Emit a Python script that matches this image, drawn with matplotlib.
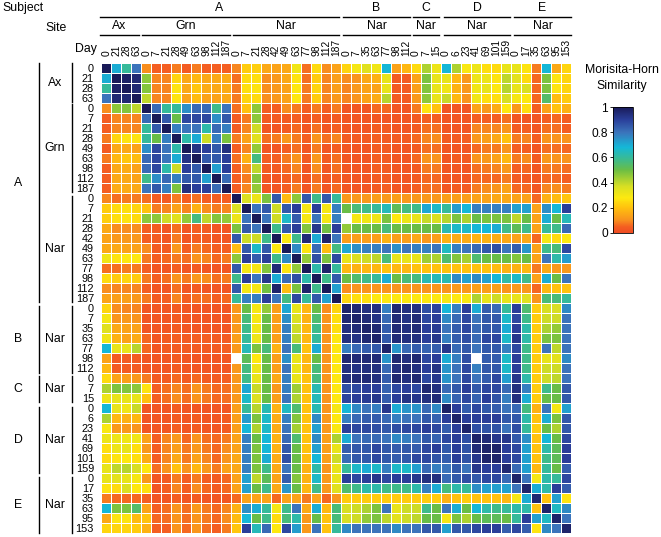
import numpy as np
import matplotlib
matplotlib.use("Agg")
import matplotlib.pyplot as plt
from matplotlib.colors import LinearSegmentedColormap

plt.rcParams["font.family"] = ["Liberation Sans", "DejaVu Sans"]

# day labels per group
days_ax = ["0", "21", "28", "63"]
days_grn = ["0", "7", "21", "28", "49", "63", "98", "112", "187"]
days_nar = ["0", "7", "21", "28", "42", "49", "63", "77", "98", "112", "187"]
days_b = ["0", "7", "35", "63", "77", "98", "112"]
days_c = ["0", "7", "15"]
days_d = ["0", "6", "23", "41", "69", "101", "159"]
days_e = ["0", "17", "35", "63", "95", "153"]
days = days_ax + days_grn + days_nar + days_b + days_c + days_d + days_e

# similarity in percent, upper triangle, row by row
sim_ax = [
    [100,70,60,80, 10,5,5,8,4,8,5,5,5, 9,22,23,15,14,15,31,7,25,10,14, 24,30,35,31,68,14,18, 25,42,32, 68,42,29,32,26,25,33, 33,27,8,68,15,24],
    [100,98,96, 46,9,9,24,15,18,15,15,16, 7,25,26,10,12,15,27,7,22,9,13, 10,11,15,17,33,4,4, 14,48,33, 33,18,12,32,32,27,40, 34,25,6,48,27,24],
    [100,96, 47,9,9,27,15,21,16,15,16, 8,26,27,10,12,14,28,8,24,9,13, 9,12,14,14,33,4,4, 13,47,33, 31,17,12,31,33,28,41, 33,36,6,48,27,24],
    [100, 40,9,9,27,14,19,14,14,15, 8,24,25,10,12,14,28,8,22,9,12, 9,11,14,16,41,4,4, 12,46,33, 39,18,11,31,26,26,37, 30,28,6,54,19,22],
]
sim_grn = [
    [100,82,60,60,75,82,82,58,80, 7,20,46,5,5,10,8,5,8,5,8, 3,3,3,6,6,3,3, 8,27,20, 3,3,3,14,12,16,28, 12,26,5,14,20,17],
    [100,85,50,88,88,88,75,85, 4,8,46,4,4,4,5,3,5,3,4, 3,3,3,3,3,3,3, 4,5,5, 3,3,3,5,5,5,7, 3,3,3,5,6,5],
    [100,78,80,80,62,82,78, 4,9,38,3,3,4,6,3,7,3,5, 3,3,3,4,4,3,3, 4,7,7, 3,3,3,9,9,9,11, 4,5,3,7,7,5],
    [100,62,70,38,78,48, 8,14,35,7,8,12,8,5,11,7,9, 4,4,4,5,4,4,4, 6,9,10, 4,4,5,12,13,15,20, 8,9,5,11,11,11],
    [100,93,90,85,94, 5,9,45,3,3,5,7,3,8,3,5, 3,3,3,4,4,3,3, 4,7,7, 3,3,3,6,8,8,11, 5,5,3,7,7,6],
    [100,85,85,90, 7,17,57,5,5,8,11,4,12,4,7, 3,3,3,5,4,3,3, 6,11,11, 3,4,4,11,12,14,18, 8,10,4,12,11,11],
    [100,72,90, 5,10,40,4,4,6,9,3,10,3,7, 3,3,3,5,4,3,3, 4,8,8, 3,3,3,7,8,9,12, 5,6,3,8,8,7],
    [100,82, 5,8,47,3,3,5,6,3,7,3,5, 3,3,3,4,4,3,3, 4,6,6, 3,3,3,6,6,6,8, 4,4,3,6,6,5],
    [100, 5,9,45,3,3,5,8,3,8,3,6, 3,3,3,4,5,3,3, 5,7,7, 3,4,4,8,10,11,14, 6,6,3,9,10,8],
]
sim_nar = [
    [100,36,32,48,85,19,46,85,58,85,60, 12,12,12,13,12,13,12, 12,12,12, 13,13,13,14,14,15,15, 14,14,6,17,19,21],
    [100,80,85,38,85,90,30,90,30,78, 50,56,58,60,64,52,57, 58,71,66, 60,73,68,78,78,78,78, 72,72,14,75,68,90],
    [100,80,38,66,84,30,80,30,78, 30,30,31,32,48,28,32, 33,39,36, 41,48,42,50,48,48,48, 40,50,14,70,50,64],
    [100,58,85,90,47,92,49,90, 45,50,50,50,56,50,50, 50,50,50, 63,66,66,68,68,70,58, 52,58,14,60,58,82],
    [100,28,58,95,70,97,80, 13,13,13,13,17,13,13, 15,12,13, 17,16,16,17,17,16,15, 14,15,6,30,25,28],
    [100,76,27,82,19,57, 71,75,78,78,80,75,80, 78,78,80, 65,78,80,82,85,87,80, 84,74,14,58,56,88],
    [100,45,87,48,88, 33,36,38,40,56,33,33, 33,44,42, 55,47,43,55,50,50,50, 47,50,14,80,62,73],
    [100,62,97,60, 18,17,18,18,20,18,18, 20,20,20, 20,20,20,20,20,19,17, 17,18,8,15,12,12],
    [100,58,85, 50,55,58,60,70,50,56, 57,63,64, 63,76,72,76,72,68,62, 66,58,14,70,50,80],
    [100,72, 10,11,11,11,11,11,11, 11,11,11, 11,12,12,13,13,13,11, 12,12,6,18,20,20],
    [100, 24,26,26,28,28,28,28, 28,28,28, 30,28,29,42,33,38,33, 33,35,11,56,56,60],
]
sim_b = [
    [97,96,94,94,78,96,94, 94,87,89, 68,78,90,70,84,82,60, 90,55,22,37,37,76],
    [97,95,93,82,95,93, 95,88,90, 76,82,88,80,85,85,66, 88,58,22,38,38,80],
    [97,96,84,95,94, 95,90,91, 80,84,88,82,85,85,70, 90,62,22,42,45,80],
    [97,85,95,94, 94,90,92, 78,84,87,82,88,88,66, 92,62,22,48,48,80],
    [97,74,82, 84,83,84, 92,82,85,80,85,85,78, 88,58,22,80,40,80],
    [96,94, 96,88,90, 70,78,87,76,84,84,66, 90,58,22,33,34,76],
    [96, 94,90,93, 74,80,88,78,85,85,66, 90,58,22,38,38,80],
]
sim_c = [
    [96,88,92, 74,80,88,80,84,88,72, 92,62,22,38,40,80],
    [96,94, 82,85,90,85,88,88,82, 94,78,22,58,50,85],
    [95, 76,83,88,83,90,86,78, 94,70,22,50,50,85],
]
sim_d = [
    [98,90,84,88,85,84,80, 82,57,17,80,30,72],
    [97,90,90,90,90,85, 85,62,20,70,48,85],
    [97,87,86,86,80, 87,60,22,50,42,85],
    [97,95,92,92, 85,75,20,68,50,88],
    [97,97,90, 88,72,20,62,52,90],
    [97,90, 88,72,20,58,52,90],
    [96, 82,72,18,60,50,84],
]
sim_e = [
    [97,80,30,62,60,88],
    [97,70,62,90,84],
    [96,20,72,27],
    [97,65,76],
    [97,80],
    [97],
]
# cells left blank in the original (row, column)
missing = [(15, 24), (29, 13), (29, 37)]

n = len(days)
upper = sim_ax + sim_grn + sim_nar + sim_b + sim_c + sim_d + sim_e
sim = np.zeros((n, n))
for i, row in enumerate(upper):
    sim[i, i:] = row
    sim[i:, i] = row
sim = sim / 100.0
for r, c in missing:
    sim[r, c] = np.nan

cmap = LinearSegmentedColormap.from_list("mh", [
    (0.0, "#ef4b23"), (0.05, "#f45f21"), (0.1, "#f8901e"), (0.2, "#ffc20e"), (0.28, "#fde910"),
    (0.37, "#d7df23"), (0.5, "#6abd45"), (0.58, "#3fbb8a"), (0.68, "#14b8d8"),
    (0.8, "#3b74bb"), (0.9, "#2a3f9a"), (1.0, "#191a58"),
])

W, H = 661, 537
fig = plt.figure(figsize=(W / 100, H / 100), dpi=100)

# overlay in pixel coordinates for the annotations
over = fig.add_axes([0, 0, 1, 1])
over.set_xlim(0, W)
over.set_ylim(H, 0)
over.axis("off")

x0, x1, y0, y1 = 101.3, 571, 63.3, 533.3
ax = fig.add_axes([x0 / W, 1 - y1 / H, (x1 - x0) / W, (y1 - y0) / H])
ax.pcolormesh(np.ma.masked_invalid(sim), cmap=cmap, vmin=0, vmax=1,
              edgecolors="white", linewidth=0.6)
ax.set_ylim(n, 0)
ax.set_xlim(0, n)
ax.axis("off")

cell = (x1 - x0) / n
for i, d in enumerate(days):
    over.text(94, y0 + (i + 0.5) * cell + 0.5, d, ha="right", va="center", fontsize=7.8)
    over.text(x0 + (i + 0.5) * cell, 56, d, ha="center", va="bottom", rotation=90, fontsize=7.4)

over.text(2, 8, "Subject", ha="left", va="center", fontsize=8.8)
over.text(45, 28, "Site", ha="left", va="center", fontsize=8.8)
over.text(75, 49, "Day", ha="left", va="center", fontsize=8.8)

top_subject = [("A", 100, 339), ("B", 343, 410), ("C", 413, 439), ("D", 444, 510), ("E", 514, 571)]
top_site = [("Ax", 100, 139), ("Grn", 142, 230), ("Nar", 233, 339), ("Nar", 343, 410),
            ("Nar", 413, 439), ("Nar", 444, 510), ("Nar", 514, 571)]
for name, a, b in top_subject:
    over.plot([a, b], [16.7, 16.7], color="black", lw=1.0)
    over.text((a + b) / 2, 8, name, ha="center", va="center", fontsize=8.8)
for name, a, b in top_site:
    over.plot([a, b], [34.5, 34.5], color="black", lw=1.0)
    over.text((a + b) / 2, 26, name, ha="center", va="center", fontsize=8.8)

left_subject = [("A", 63, 302), ("B", 306, 373), ("C", 376, 402), ("D", 407, 473), ("E", 477, 533)]
left_site = [("Ax", 63, 102), ("Grn", 104, 192), ("Nar", 196, 302), ("Nar", 306, 373),
             ("Nar", 376, 402), ("Nar", 407, 473), ("Nar", 477, 533)]
for name, a, b in left_subject:
    over.plot([39, 39], [a, b], color="black", lw=1.0)
    over.text(18, (a + b) / 2, name, ha="center", va="center", fontsize=8.8)
for name, a, b in left_site:
    over.plot([72, 72], [a, b], color="black", lw=1.0)
    over.text(55, (a + b) / 2, name, ha="center", va="center", fontsize=8.8)

over.text(622, 70, "Morisita-Horn", ha="center", va="center", fontsize=8.8)
over.text(622, 86, "Similarity", ha="center", va="center", fontsize=8.8)

# colour bar
cax = fig.add_axes([613 / W, 1 - 233 / H, 20 / W, 126 / H])
sm = plt.cm.ScalarMappable(cmap=cmap, norm=plt.Normalize(0, 1))
cb = fig.colorbar(sm, cax=cax, ticks=[0, 0.2, 0.4, 0.6, 0.8, 1])
cb.ax.yaxis.set_ticks_position("left")
cb.ax.set_yticklabels(["0", "0.2", "0.4", "0.6", "0.8", "1"])
cb.ax.tick_params(length=2.5, width=0.6, labelsize=8.6, pad=1)
cb.outline.set_linewidth(0.6)

fig.savefig("out.png", dpi=100)
